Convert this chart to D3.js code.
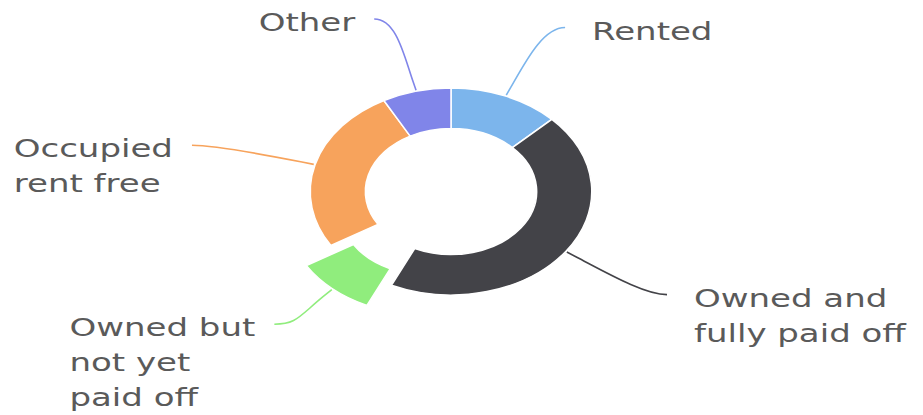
<!DOCTYPE html>
<html lang="en">
<head>
<meta charset="utf-8">
<style>
  body { margin: 0; background: #fff; }
  svg { display: block; }
  .label { font-family: "DejaVu Sans", Verdana, sans-serif; font-size: 25px; fill: #5a5a5a; }
</style>
</head>
<body>
<script src="https://cdn.jsdelivr.net/npm/d3@7"></script>
<script>

// data
var categories = ["Rented", "Owned and fully paid off", "Owned but not yet paid off", "Occupied rent free", "Other"];
var shares = [12.7, 44.2, 9.3, 25.8, 7.9];
var labelLines = [["Rented"], ["Owned and", "fully paid off"], ["Owned but", "not yet", "paid off"], ["Occupied", "rent free"], ["Other"]];
var colors = ["#7cb5ec", "#434348", "#90ed7d", "#f7a35c", "#8085e9"];
var slicedCategory = "Owned but not yet paid off";

var width = 923, height = 415;
var cx = 451, cy = 191.5;
var stretchX = 1.36;          // the picture is wider than it is tall
var outerR = 103.5, innerR = 63;
var slicedOffset = 27;
var labelRx = 265, labelRy = 178, topPush = 12;
var lineHeight = 35;

var svg = d3.select("body").append("svg")
  .attr("width", width)
  .attr("height", height);

var pie = d3.pie().sort(null).value(function(d) { return d; });
var arcs = pie(shares);
var arc = d3.arc().innerRadius(innerR).outerRadius(outerR);

function mid(d) { return (d.startAngle + d.endAngle) / 2; }

function shiftOf(d, i) {
  if (categories[i] !== slicedCategory) return [0, 0];
  var a = mid(d);
  return [Math.sin(a) * slicedOffset, -Math.cos(a) * slicedOffset];
}

// point on the (stretched) pie, in page coordinates
function pt(a, r, s) {
  return [cx + stretchX * (r * Math.sin(a) + s[0]), cy - r * Math.cos(a) + s[1]];
}

var donut = svg.append("g")
  .attr("transform", "translate(" + cx + "," + cy + ") scale(" + stretchX + ",1)");

donut.selectAll("path")
  .data(arcs)
  .enter().append("path")
  .attr("d", arc)
  .attr("fill", function(d, i) { return colors[i]; })
  .attr("stroke", "#fff")
  .attr("stroke-width", 1.5)
  .attr("vector-effect", "non-scaling-stroke")
  .attr("transform", function(d, i) {
    var s = shiftOf(d, i);
    return "translate(" + s[0] + "," + s[1] + ")";
  });

// connectors and labels
arcs.forEach(function(d, i) {
  var a = mid(d);
  var s = shiftOf(d, i);
  var side = Math.sin(a) >= 0 ? 1 : -1;
  var e = pt(a, outerR + 1, s);
  var b = pt(a, outerR + 10, s);
  var c1 = pt(a, outerR + 38, s);
  // labels near the top get pushed a little further out
  var end = [cx + labelRx * Math.sin(a) + side * topPush * Math.max(0, Math.cos(a)), cy - labelRy * Math.cos(a)];
  var c2 = [end[0] - side * 22, end[1]];

  svg.append("path")
    .attr("d", "M" + e + "L" + b + "C" + c1 + " " + c2 + " " + end)
    .attr("fill", "none")
    .attr("stroke", colors[i])
    .attr("stroke-width", 1.6);

  var text = svg.append("text")
    .attr("class", "label")
    .style("text-anchor", "start");

  text.selectAll("tspan")
    .data(labelLines[i])
    .enter().append("tspan")
    .attr("x", 0)
    .attr("dy", function(l, j) { return j === 0 ? 0 : lineHeight; })
    .text(function(l) { return l; });

  // left labels: block of left-aligned lines ending next to the connector
  var w = 0;
  text.selectAll("tspan").each(function() { w = Math.max(w, this.getComputedTextLength()); });
  var tx = side > 0 ? end[0] + 27 : end[0] - 19 - w * stretchX;
  text.attr("transform", "translate(" + tx + "," + (end[1] + 12) + ") scale(" + stretchX + ",1)");
});

</script>
</body>
</html>
